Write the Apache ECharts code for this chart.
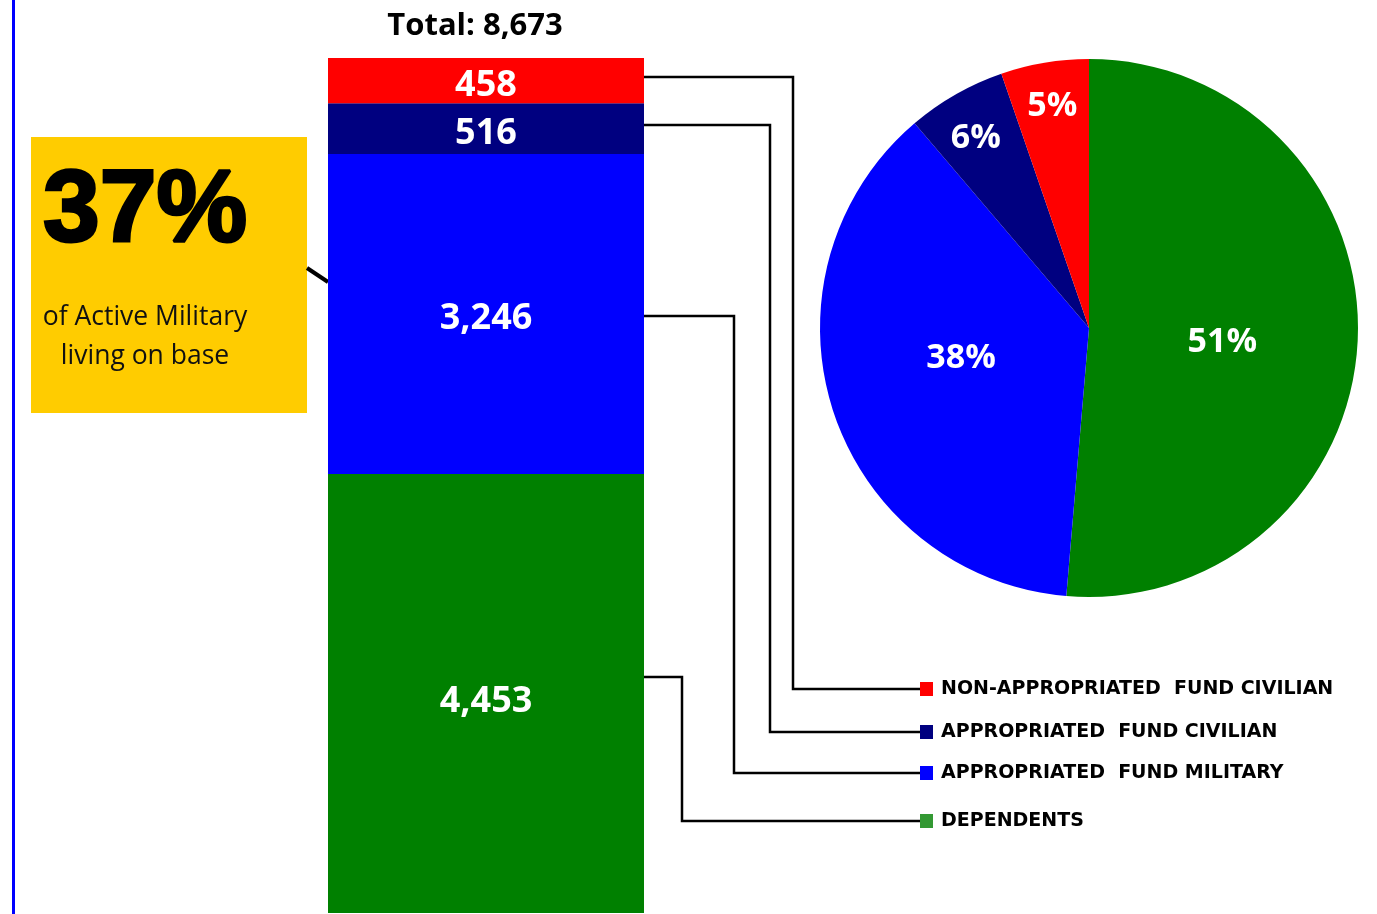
<!DOCTYPE html>
<html>
<head>
<meta charset="utf-8">
<script src="https://cdn.jsdelivr.net/npm/echarts@6/dist/echarts.min.js"></script>
<style>
html,body{margin:0;padding:0;background:#fff;}
#c{width:1377px;height:914px;}
</style>
</head>
<body>
<div id="c"></div>
<script>
// ---- data ----
const categories = ['NON-APPROPRIATED  FUND CIVILIAN', 'APPROPRIATED  FUND CIVILIAN', 'APPROPRIATED  FUND MILITARY', 'DEPENDENTS'];
const values = [458, 516, 3246, 4453];
const pieLabels = ['5%', '6%', '38%', '51%'];
const calloutValue = '37%';
const calloutText = ['of Active Military', 'living on base'];

// ---- styles ----
const colors = ['#FF0000', '#000080', '#0000FF', '#008000'];
const legendColors = ['#FF0000', '#000080', '#0000FF', '#339933'];
const pieLabelOffsets = [[-14, -86], [-45, -70], [3, -12], [-4, 9]];
const barLabelOffsets = [[0, 5], [0, 5], [0, 5], [0, 8]];
const connectorDy = [-4, -4, 2, -17];
const connectorX = [793, 770, 734, 682];
const legendY = [689, 732, 773, 821];
const FONT = 'Open Sans';

const total = values.reduce((a, b) => a + b, 0);
const chart = echarts.init(document.getElementById('c'), null, {renderer: 'canvas'});

// bar series: stacked bottom (green) to top (red)
const barSeries = [];
for (let i = values.length - 1; i >= 0; i--) {
  barSeries.push({
    type: 'bar', name: categories[i], stack: 'total', barWidth: '100%',
    data: [values[i]],
    itemStyle: {color: colors[i]},
    label: {
      show: true, position: 'inside', color: '#fff', offset: barLabelOffsets[i],
      fontFamily: FONT, fontWeight: 'bold', fontSize: 36,
      formatter: p => p.value.toLocaleString('en-US')
    },
    silent: true, animation: false
  });
}

// pie: clockwise from top: green, blue, navy, red
const pieData = [];
for (let i = values.length - 1; i >= 0; i--) {
  pieData.push({
    name: categories[i], value: values[i],
    itemStyle: {color: colors[i]},
    label: {offset: pieLabelOffsets[i], formatter: pieLabels[i]}
  });
}

chart.setOption({
  animation: false,
  grid: {left: 328, top: 58, width: 316, height: 855},
  xAxis: {type: 'category', data: ['Total'], show: false},
  yAxis: {type: 'value', min: 0, max: total, show: false},
  series: barSeries.concat([{
    type: 'pie', center: [1089, 328], radius: 269,
    startAngle: 90, clockwise: true,
    data: pieData,
    label: {
      show: true, position: 'inside', color: '#fff',
      fontFamily: FONT, fontWeight: 'bold', fontSize: 34
    },
    labelLine: {show: false},
    silent: true, animation: false
  }])
});

// annotations: connectors, legend, callout, total
const g = [];
g.push({type: 'rect', shape: {x: 12, y: 0, width: 3, height: 914}, style: {fill: '#0000FF'}, silent: true});
g.push({type: 'text', style: {x: 475, y: 26, text: 'Total: ' + total.toLocaleString('en-US'), fill: '#000',
  font: 'bold 31px "' + FONT + '"', textAlign: 'center', textVerticalAlign: 'middle'}});

// callout box
g.push({type: 'rect', shape: {x: 31, y: 137, width: 276, height: 276}, style: {fill: '#FFCC00'}});
g.push({type: 'line', shape: {x1: 307, y1: 268, x2: 328, y2: 282}, style: {stroke: '#000', lineWidth: 4}});
g.push({type: 'text', style: {x: 145, y: 213, text: calloutValue, fill: '#000', stroke: '#000', lineWidth: 3,
  font: '900 102px "Liberation Sans"', textAlign: 'center', textVerticalAlign: 'middle'}});
g.push({type: 'text', style: {x: 145, y: 317, text: calloutText[0], fill: '#111',
  font: '26.5px "' + FONT + '"', textAlign: 'center', textVerticalAlign: 'middle'}});
g.push({type: 'text', style: {x: 145, y: 356, text: calloutText[1], fill: '#111',
  font: '26.5px "' + FONT + '"', textAlign: 'center', textVerticalAlign: 'middle'}});

let cum = total;
for (let i = 0; i < values.length; i++) {
  const mid = cum - values[i] / 2;
  cum -= values[i];
  const y0 = Math.round(chart.convertToPixel({yAxisIndex: 0}, mid)) + connectorDy[i];
  const x0 = chart.convertToPixel({xAxisIndex: 0}, 0) + 158;
  g.push({type: 'polyline', shape: {points: [[x0, y0], [connectorX[i], y0], [connectorX[i], legendY[i]], [920, legendY[i]]]},
    style: {stroke: '#000', lineWidth: 2.5, fill: null}, silent: true});
  g.push({type: 'rect', shape: {x: 920, y: legendY[i] - 7, width: 13, height: 14}, style: {fill: legendColors[i]}});
  g.push({type: 'text', style: {x: 941, y: legendY[i], text: categories[i], fill: '#000',
    font: 'bold 19px "DejaVu Sans"', textAlign: 'left', textVerticalAlign: 'middle'}});
}
chart.setOption({graphic: {elements: g}});
</script>
</body>
</html>
